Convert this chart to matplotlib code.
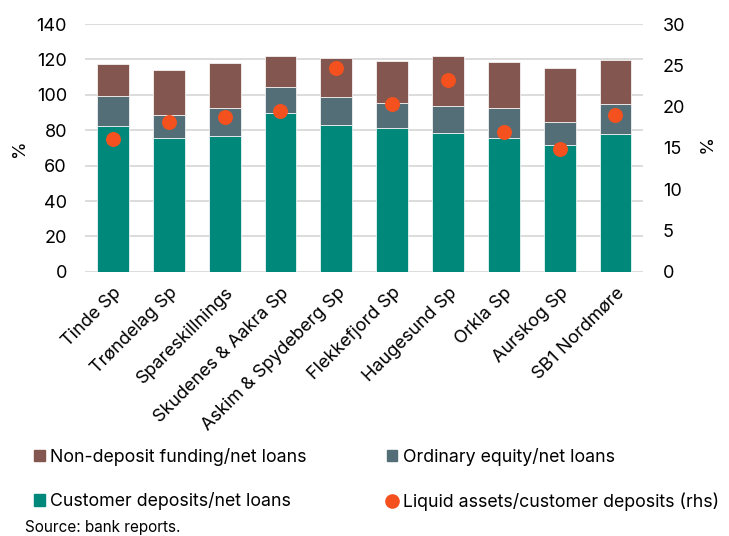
import matplotlib.pyplot as plt
import numpy as np
from matplotlib.patches import Patch
from matplotlib.lines import Line2D

plt.rcParams['font.family'] = ['Inter', 'DejaVu Sans']

banks = ['Tinde Sp', 'Trøndelag Sp', 'Spareskillnings', 'Skudenes & Aakra Sp',
         'Askim & Spydeberg Sp', 'Flekkefjord Sp', 'Haugesund Sp', 'Orkla Sp',
         'Aurskog Sp', 'SB1 Nordmøre']
deposits = [82.5, 75.4, 76.9, 89.5, 82.7, 81.0, 78.2, 75.9, 71.4, 77.6]
equity = [17.0, 13.0, 15.8, 15.1, 16.2, 14.5, 15.4, 16.8, 13.0, 17.0]
non_deposit = [17.9, 25.4, 25.4, 17.5, 21.9, 23.6, 28.3, 25.8, 30.7, 25.2]
liquid = [16.1, 18.2, 18.8, 19.5, 24.7, 20.3, 23.2, 16.9, 14.9, 19.0]

c_dep = '#00897b'
c_eq = '#546e77'
c_nd = '#835750'
c_liq = '#f4511e'

fig = plt.figure(figsize=(7.29, 5.36), dpi=100)
ax = fig.add_axes([0.1166, 0.493, 0.766, 0.462])
x = np.arange(len(banks))
w = 0.57
dep = np.array(deposits)
eq = np.array(equity)
ax.bar(x, dep, w, color=c_dep, edgecolor='white', linewidth=0.5, zorder=2)
ax.bar(x, eq, w, bottom=dep, color=c_eq, edgecolor='white', linewidth=0.5, zorder=2)
ax.bar(x, non_deposit, w, bottom=dep + eq, color=c_nd, edgecolor='white', linewidth=0.5, zorder=2)

ax.set_xlim(-0.5, len(banks) - 0.5)
ax.set_ylim(0, 140)
ax.set_yticks(range(0, 141, 20))
ax.grid(axis='y', color='#d9d9d9', linewidth=1.3, zorder=0)
ax.set_axisbelow(True)
for s in ax.spines.values():
    s.set_visible(False)
ax.tick_params(axis='y', length=0, labelsize=13, pad=13)
ax.tick_params(axis='x', length=0, labelsize=13, pad=9)
ax.set_xticks(x)
ax.set_xticklabels(banks, rotation=45, ha='right', rotation_mode='anchor')
ax.set_ylabel('%', fontsize=13, labelpad=6)

ax2 = ax.twinx()
ax2.scatter(x, liquid, s=95, color=c_liq, zorder=5)
ax2.set_ylim(0, 30)
ax2.set_yticks(range(0, 31, 5))
for s in ax2.spines.values():
    s.set_visible(False)
ax2.tick_params(length=0, labelsize=13, pad=14)
ax2.set_ylabel('%', fontsize=13, rotation=270, labelpad=18)

handles = [Patch(color=c_nd), Patch(color=c_dep), Patch(color=c_eq),
           Line2D([], [], marker='o', linestyle='', color=c_liq, markersize=9.5)]
labels = ['Non-deposit funding/net loans', 'Customer deposits/net loans',
          'Ordinary equity/net loans', 'Liquid assets/customer deposits (rhs)']
fig.legend(handles, labels, ncol=2, loc='upper left', bbox_to_anchor=(0.047, 0.165),
           frameon=False, fontsize=12.8, handlelength=0.6, handleheight=0.6,
           handletextpad=0.3, labelspacing=1.5, columnspacing=4.5,
           borderpad=0, borderaxespad=0)

fig.text(0.034, 0.015, 'Source: bank reports.', fontsize=11, va='center')

fig.savefig('out.png', dpi=100)
